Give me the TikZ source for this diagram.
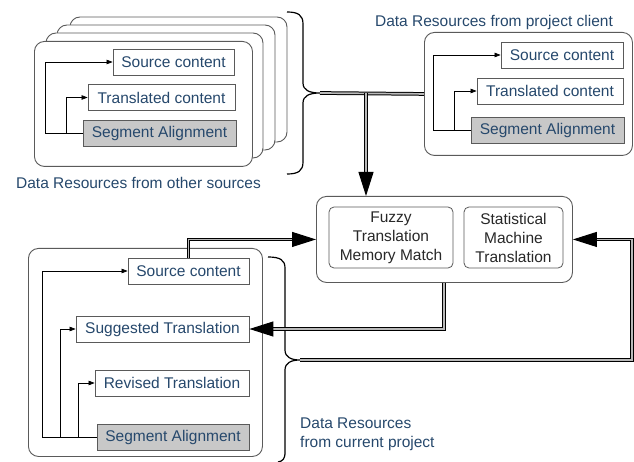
\documentclass[tikz,border=0pt]{standalone}
\usepackage{fontspec}
\setmainfont{Liberation Sans}
\usetikzlibrary{arrows.meta,calc}
\definecolor{txt}{RGB}{38,72,108}
\definecolor{gfill}{RGB}{200,200,200}
\definecolor{bord}{RGB}{90,90,90}
\definecolor{ctxt}{RGB}{40,40,40}
\tikzset{
  card/.style={draw=bord, line width=0.9pt, rounded corners=10pt, fill=white},
  ibox/.style={draw=bord, line width=0.8pt, fill=white, text=txt, inner sep=0pt,
    font=\fontsize{15.5}{19}\selectfont, minimum height=26pt},
  gbox/.style={ibox, fill=gfill},
  rbox/.style={draw=bord, line width=0.8pt, rounded corners=5pt, inner sep=0pt, text=ctxt,
    font=\fontsize{15.5}{19}\selectfont, align=center, minimum height=61pt},
  lbl/.style={text=txt, inner sep=0pt, font=\fontsize{15.5}{19}\selectfont},
  sarrow/.style={line width=0.7pt, -{Triangle[length=6pt,width=4.5pt]}},
  dline/.style={draw=black, line width=1pt, double=gray!55, double distance=1.7pt},
  darrow/.style={dline, -{Triangle[length=24pt,width=15pt]}},
  brace/.style={line width=1.2pt, black},
}
\begin{document}
\begin{tikzpicture}[x=1pt,y=-1pt]
\useasboundingbox (0,0) rectangle (634,462);
% stacked cards (other sources)
\draw[card] (70,17) rectangle (287,142);
\draw[card] (57,25) rectangle (275,150);
\draw[card] (46,33) rectangle (263,158);
\node[card, minimum width=218pt, minimum height=125pt, anchor=north west] (card1) at (34,41) {};
\node[ibox, minimum width=121pt] (sc1) at (173.5,62) {Source content};
\node[ibox, minimum width=147pt] (tc1) at (161.5,97.5) {Translated content};
\node[gbox, minimum width=153pt] (sa1) at (159.5,133.5) {Segment Alignment};
\draw[sarrow] (sa1.west) -- ++(-37,0) |- (sc1.west);
\draw[sarrow] (sa1.west) -- ++(-16,0) |- (tc1.west);
\node[lbl] (l1) at (138.5,183) {Data Resources from other sources};
% client card
\node[card, minimum width=208pt, minimum height=123pt, anchor=north west] (client) at (424,32) {};
\node[ibox, minimum width=122pt] (sc2) at (562,55) {Source content};
\node[ibox, minimum width=146pt] (tc2) at (550,91) {Translated content};
\node[gbox, minimum width=153pt] (sa2) at (547.5,130) {Segment Alignment};
\draw[sarrow] (sa2.west) -- ++(-37,0) |- (sc2.west);
\draw[sarrow] (sa2.west) -- ++(-16,0) |- (tc2.west);
\node[lbl] (l2) at (494,22) {Data Resources from project client};
% center
\node[card, minimum width=256pt, minimum height=86pt, anchor=north west] (ctr) at (316,196) {};
\node[rbox, minimum width=124pt] (fz) at (391,237.5) {Fuzzy\\Translation\\Memory Match};
\node[rbox, minimum width=99pt] (smt) at (513.5,237.5) {Statistical\\Machine\\Translation};
% current project card
\node[card, minimum width=234pt, minimum height=208pt, anchor=north west] (cur) at (28,248) {};
\node[ibox, minimum width=121pt] (sc3) at (188.5,271) {Source content};
\node[ibox, minimum width=173pt] (st3) at (162.5,329) {Suggested Translation};
\node[ibox, minimum width=154pt] (rt3) at (172,383) {Revised Translation};
\node[gbox, minimum width=152pt] (sa3) at (173,437.5) {Segment Alignment};
\draw[sarrow] (sa3.west) -- ++(-54,0) |- (sc3.west);
\draw[sarrow] (sa3.west) -- ++(-36,0) |- (st3.west);
\draw[sarrow] (sa3.west) -- ++(-18,0) |- (rt3.west);
\node[lbl, align=left, anchor=north west] (l3) at (300,418) {Data Resources\\from current project};
% braces
\coordinate (b1) at (320,93);
\draw[brace] (287,12) .. controls (298,12) and (303,15) .. (303,24) -- (303,83)
  .. controls (303,90) and (309,93) .. (b1) .. controls (309,93) and (303,96) .. (303,103)
  -- (303,162) .. controls (303,171) and (298,174) .. (287,174);
\coordinate (b2) at (300,360);
\draw[brace] (268,257) .. controls (280,257) and (285,260) .. (285,268) -- (285,350)
  .. controls (285,357) and (291,360) .. (b2) .. controls (291,360) and (285,363) .. (285,370)
  -- (285,452) .. controls (285,459) and (283,461) .. (278,462);
% double connectors
\coordinate (j) at (366,93);
\draw[dline] (b1) -- (client.west);
\draw[darrow] (j) -- (j |- ctr.north);
\draw[darrow] (sc3.north) |- (ctr.west);
\draw[darrow] ([xshift=128pt]ctr.south west) |- (st3.east);
\draw[darrow] (b2) -- (632,360) |- (ctr.east);
\end{tikzpicture}
\end{document}
